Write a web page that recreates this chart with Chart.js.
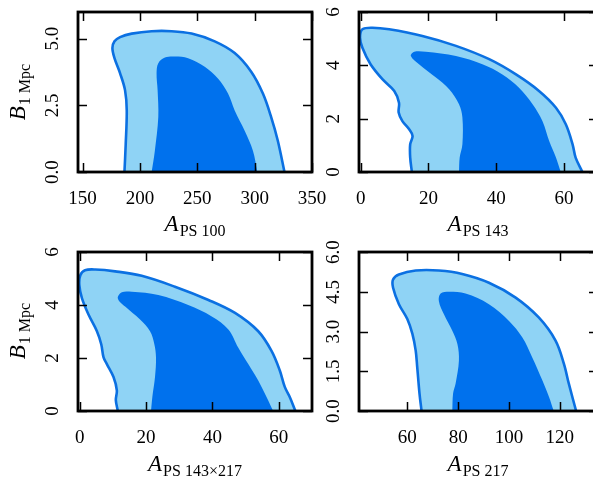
<!DOCTYPE html>
<html lang="en">
<head>
<meta charset="UTF-8" />
<title>Contours</title>
<script src="https://cdn.jsdelivr.net/npm/chart.js"></script>
<style>
  body { margin: 0; width: 593px; height: 482px; overflow: hidden; position: relative; background: #fff; }
  canvas { position: absolute; }
  .lab { position: absolute; font-family: "Liberation Serif", serif; color: #000; white-space: nowrap; line-height: 1; }
  .lab i { font-size: 23px; }
  .lab sub { font-size: 16px; vertical-align: -5px; margin-left: 1px; }
  .xl { transform: translateX(-50%); }
  .yl { transform: translate(-50%, -50%) rotate(-90deg); }
</style>
</head>
<body>
<canvas id="c1" width="340" height="240" style="left:0;top:0"></canvas>
<canvas id="c2" width="320" height="240" style="left:300px;top:0"></canvas>
<canvas id="c3" width="340" height="242" style="left:0;top:240px"></canvas>
<canvas id="c4" width="320" height="242" style="left:300px;top:240px"></canvas>

<div class="lab yl" style="left:19px;top:92px"><i>B</i><sub>1 Mpc</sub></div>
<div class="lab yl" style="left:19px;top:331px"><i>B</i><sub>1 Mpc</sub></div>
<div class="lab xl" style="left:195px;top:212px"><i>A</i><sub>PS 100</sub></div>
<div class="lab xl" style="left:478px;top:212px"><i>A</i><sub>PS 143</sub></div>
<div class="lab xl" style="left:195px;top:452px"><i>A</i><sub>PS 143×217</sub></div>
<div class="lab xl" style="left:478px;top:452px"><i>A</i><sub>PS 217</sub></div>

<script>
// contour points [A, B]
const p1Outer = [[186.5,0],[187.6,1.05],[188.5,2.31],[187,3.07],[182.7,3.7],[177.8,4.27],[176,4.65],[177.8,4.9],[182.7,5.06],[192.8,5.19],[210.2,5.28],[227.6,5.28],[245,5.19],[265.2,4.9],[282.6,4.46],[297,3.76],[307.2,2.94],[314.4,2.06],[320.2,1.17],[326,0]];
const p1Inner = [[210.2,0],[213,0.8],[216,2.06],[215.4,3.07],[214.5,3.7],[216,4.08],[221.8,4.29],[230.5,4.33],[242,4.27],[256.5,3.95],[268,3.51],[276.8,2.94],[282.6,2.31],[291.3,1.55],[298.5,0.8],[302.3,0]];
const p2Outer = [[15.1,0],[14.6,0.54],[14.6,1.04],[15.3,1.35],[14.3,1.6],[12.3,1.91],[11.2,2.23],[11.3,2.6],[9.9,3.04],[6.4,3.48],[2.9,4.04],[0.5,4.66],[-0.2,5.04],[0.5,5.35],[3.5,5.41],[8.4,5.35],[18.2,5.1],[28.1,4.73],[37.9,4.23],[45.8,3.66],[52.6,3.04],[57.6,2.41],[60.5,1.79],[62.5,1.04],[63.4,0.54],[65.4,0]];
const p2Inner = [[29,0],[29.2,0.54],[30,1.04],[30,2.04],[29,2.54],[26.1,3.1],[22.2,3.54],[17.2,4.04],[14.8,4.35],[15.8,4.51],[19.2,4.51],[28.1,4.35],[35.9,4.04],[41.8,3.66],[46.7,3.16],[50.7,2.54],[53.6,1.91],[55.6,1.16],[57.6,0.54],[59,0]];
const p3Outer = [[11.5,0],[10.9,0.41],[11.2,0.78],[10.2,1.28],[8.2,1.77],[7.2,2.02],[6.5,2.52],[5.2,3.01],[2.7,3.63],[0.7,4.25],[-0.1,4.75],[0.2,5.12],[1.6,5.31],[4.7,5.34],[10.7,5.27],[18.7,5.1],[28.7,4.69],[38.8,4.19],[46.8,3.7],[53.8,3.01],[57.8,2.27],[60.3,1.53],[61.8,0.91],[63.3,0.53],[65,0]];
const p3Inner = [[21.5,0],[21.9,0.53],[22.7,1.28],[23,2.02],[22.5,2.52],[21.2,3.01],[18.2,3.45],[13.7,3.94],[11.5,4.25],[12.7,4.48],[15.7,4.5],[23.7,4.38],[32.7,4],[39.8,3.57],[44.8,3.08],[47.8,2.39],[50.8,1.77],[53.8,1.15],[56.3,0.53],[58.3,0]];
const p4Outer = [[65.6,0],[64.8,0.66],[63.9,1.66],[63.3,2.28],[62,2.91],[60,3.47],[56.7,4.03],[54.4,4.65],[54.4,4.96],[56.7,5.15],[63.3,5.3],[72.4,5.3],[81.6,5.17],[92.1,4.84],[102.6,4.28],[111.7,3.53],[118.3,2.66],[121.6,1.78],[123.5,1.04],[126.4,0]];
const p4Inner = [[77.7,0],[78,0.66],[79,1.04],[80.3,1.91],[79.7,2.53],[77.7,3.03],[74.4,3.65],[72.4,4.15],[73.1,4.43],[76.4,4.5],[82.9,4.43],[92.1,4.03],[100,3.4],[105.2,2.78],[109.1,2.03],[113.1,1.16],[115.7,0.54],[117.6,0]];

const p1XTicks = [150, 200, 250, 300, 350];
const p1YTicks = [0, 2.5, 5];
const p2XTicks = [0, 20, 40, 60];
const p2YTicks = [0, 2, 4, 6];
const p3XTicks = [0, 20, 40, 60];
const p3YTicks = [0, 2, 4, 6];
const p4XTicks = [60, 80, 100, 120];
const p4YTicks = [0, 1.5, 3, 4.5, 6];

const FONT = '"Liberation Serif", serif';

// frame, inward ticks on all sides, rotated y labels
const framePlugin = {
  id: "frame",
  afterDatasetsDraw(chart) {
    const { ctx, chartArea: a, scales } = chart;
    const x = scales.x, y = scales.y;
    const dec = chart.options.plugins.frame.dec;
    ctx.save();
    ctx.strokeStyle = "#000";
    ctx.lineWidth = 1.5;
    ctx.beginPath();
    x.ticks.forEach((t) => {
      const px = Math.round(x.getPixelForValue(t.value)) + 0.5;
      ctx.moveTo(px, a.bottom); ctx.lineTo(px, a.bottom - 9);
      ctx.moveTo(px, a.top); ctx.lineTo(px, a.top + 9);
    });
    y.ticks.forEach((t) => {
      const py = Math.round(y.getPixelForValue(t.value)) + 0.5;
      ctx.moveTo(a.left, py); ctx.lineTo(a.left + 9, py);
      ctx.moveTo(a.right, py); ctx.lineTo(a.right - 9, py);
    });
    ctx.stroke();
    ctx.lineWidth = 2.8;
    ctx.strokeRect(a.left, a.top, a.right - a.left, a.bottom - a.top);
    ctx.fillStyle = "#000";
    ctx.font = "19px " + FONT;
    ctx.textAlign = "center";
    ctx.textBaseline = "alphabetic";
    y.ticks.forEach((t) => {
      const py = y.getPixelForValue(t.value);
      ctx.save();
      ctx.translate(a.left - 20, py);
      ctx.rotate(-Math.PI / 2);
      ctx.fillText(t.value.toFixed(dec), 0, 0);
      ctx.restore();
    });
    ctx.restore();
  },
};

function pts(list) {
  return list.map((p) => ({ x: p[0], y: p[1] }));
}

function panel(id, outer, inner, xr, xTicks, yTicks, dec, box) {
  new Chart(document.getElementById(id), {
    type: "scatter",
    data: {
      datasets: [
        {
          data: pts(inner),
          showLine: true,
          fill: "shape",
          backgroundColor: "#0071ed",
          borderWidth: 0,
          borderColor: "rgba(0,0,0,0)",
          pointRadius: 0,
          tension: 0.35,
          clip: 0,
        },
        {
          data: pts(outer),
          showLine: true,
          fill: "shape",
          backgroundColor: "#8fd3f5",
          borderColor: "#0b70e2",
          borderWidth: 2.6,
          borderJoinStyle: "round",
          pointRadius: 0,
          tension: 0.35,
          clip: 0,
        },
      ],
    },
    options: {
      responsive: false,
      animation: false,
      events: [],
      layout: { padding: { top: box.top, right: box.right, left: 0, bottom: 0 } },
      plugins: { legend: { display: false }, tooltip: { enabled: false }, frame: { dec: dec } },
      scales: {
        x: {
          type: "linear",
          min: xr[0],
          max: xr[1],
          afterBuildTicks: (s) => { s.ticks = xTicks.map((v) => ({ value: v })); },
          afterFit: (s) => { s.height = box.xh; s.paddingLeft = 0; s.paddingRight = 0; },
          grid: { display: false, drawTicks: false },
          border: { display: false },
          ticks: { color: "#000", font: { family: FONT, size: 19 }, padding: 16, maxRotation: 0, autoSkip: false },
        },
        y: {
          type: "linear",
          min: 0,
          max: 6,
          afterBuildTicks: (s) => { s.ticks = yTicks.map((v) => ({ value: v })); },
          afterFit: (s) => { s.width = box.yw; s.paddingTop = 0; s.paddingBottom = 0; },
          grid: { display: false, drawTicks: false },
          border: { display: false },
          ticks: { display: false },
        },
      },
    },
    plugins: [framePlugin],
  });
}

panel("c1", p1Outer, p1Inner, [146, 350], p1XTicks, p1YTicks, 1, { top: 12, right: 28, xh: 68, yw: 78 });
panel("c2", p2Outer, p2Inner, [-0.5, 70], p2XTicks, p2YTicks, 0, { top: 12, right: 22, xh: 68, yw: 59 });
panel("c3", p3Outer, p3Inner, [-0.5, 70], p3XTicks, p3YTicks, 0, { top: 12, right: 28, xh: 71, yw: 78 });
panel("c4", p4Outer, p4Inner, [41, 135], p4XTicks, p4YTicks, 1, { top: 12, right: 22, xh: 71, yw: 59 });
</script>
</body>
</html>
